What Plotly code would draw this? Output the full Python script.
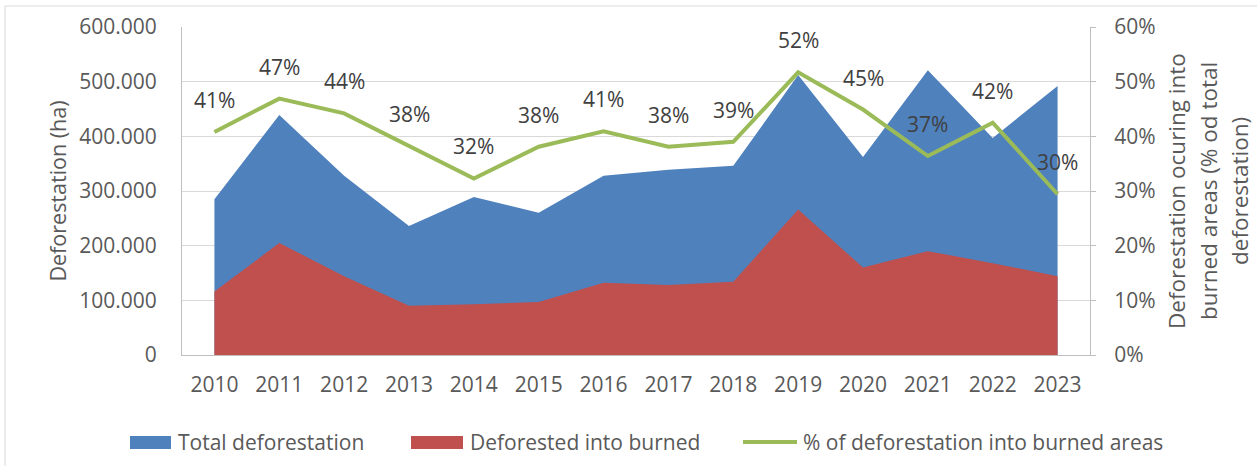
import plotly.graph_objects as go

years = ["2010", "2011", "2012", "2013", "2014", "2015", "2016",
         "2017", "2018", "2019", "2020", "2021", "2022", "2023"]
total_deforestation = [285000, 439000, 328000, 236000, 289000, 260000, 328000,
                       339000, 346000, 512000, 362000, 521000, 397000, 492000]
deforested_burned = [116000, 205000, 144000, 90000, 93000, 97000, 132000,
                     128000, 134000, 266000, 160000, 190000, 168000, 144000]
pct_burned = [0.408, 0.469, 0.442, 0.382, 0.323, 0.381, 0.409,
              0.381, 0.390, 0.517, 0.449, 0.364, 0.425, 0.294]
pct_labels = ["41%", "47%", "44%", "38%", "32%", "38%", "41%",
              "38%", "39%", "52%", "45%", "37%", "42%", "30%"]
left_ticks = [0, 100000, 200000, 300000, 400000, 500000, 600000]
left_tick_text = ["0", "100.000", "200.000", "300.000", "400.000", "500.000", "600.000"]
right_ticks = [0, 0.1, 0.2, 0.3, 0.4, 0.5, 0.6]
right_tick_text = ["0%", "10%", "20%", "30%", "40%", "50%", "60%"]

BLUE = "#4f81bd"
RED = "#c0504d"
GREEN = "#9bbb59"
TXT = "#595959"
GRID = "#d9d9d9"
AXIS = "#bfbfbf"
FONT = "Open Sans, Lato, sans-serif"

W, H = 1257, 466
L, R, T, B = 182, 167, 27, 111
PW, PH = W - L - R, H - T - B


def px(x):
    return (x - L) / PW


def py(y):
    return (H - B - y) / PH


fig = go.Figure()
fig.add_trace(go.Scatter(x=years, y=total_deforestation, name="Total deforestation",
                         mode="lines", line=dict(width=0, color=BLUE),
                         fill="tozeroy", fillcolor=BLUE, showlegend=False))
fig.add_trace(go.Scatter(x=years, y=deforested_burned, name="Deforested into burned",
                         mode="lines", line=dict(width=0, color=RED),
                         fill="tozeroy", fillcolor=RED, showlegend=False))
fig.add_trace(go.Scatter(x=years, y=pct_burned, name="% of deforestation into burned areas",
                         mode="lines", line=dict(width=4, color=GREEN),
                         yaxis="y2", showlegend=False))

annotations = []
for i, (v, lab) in enumerate(zip(pct_burned, pct_labels)):
    annotations.append(dict(x=i, y=v, xref="x", yref="y2", text=lab, showarrow=False,
                            yshift=32, font=dict(size=21, color="#404040", family=FONT)))

# right axis title (three lines)
for xpix, line in zip([1176, 1208, 1239],
                      ["Deforestation ocuring into", "burned areas (% od total", "deforestation)"]):
    annotations.append(dict(x=px(xpix), y=py(191), xref="paper", yref="paper", text=line,
                            showarrow=False, textangle=-90, xanchor="center", yanchor="middle",
                            font=dict(size=22.5, color=TXT, family=FONT)))

# legend text
for xpix, txt in zip([176, 468, 801],
                     ["Total deforestation", "Deforested into burned",
                      "% of deforestation into burned areas"]):
    annotations.append(dict(x=px(xpix), y=py(442), xref="paper", yref="paper", text=txt,
                            showarrow=False, xanchor="left", yanchor="middle",
                            font=dict(size=21, color=TXT, family=FONT)))

shapes = [
    # outer chart frame
    dict(type="rect", xref="paper", yref="paper", x0=px(5), x1=px(1262), y0=py(471), y1=py(6),
         line=dict(color=GRID, width=1), fillcolor="rgba(0,0,0,0)", layer="below"),
    # legend symbols
    dict(type="rect", xref="paper", yref="paper", x0=px(130), x1=px(171), y0=py(449), y1=py(436),
         line=dict(width=0), fillcolor=BLUE),
    dict(type="rect", xref="paper", yref="paper", x0=px(411), x1=px(463), y0=py(449), y1=py(436),
         line=dict(width=0), fillcolor=RED),
    dict(type="line", xref="paper", yref="paper", x0=px(743), x1=px(797), y0=py(442), y1=py(442),
         line=dict(width=4, color=GREEN)),
]

fig.update_layout(
    width=W, height=H,
    margin=dict(l=L, r=R, t=T, b=B),
    paper_bgcolor="white", plot_bgcolor="white",
    font=dict(family=FONT, size=20, color=TXT),
    showlegend=False,
    xaxis=dict(type="category", range=[-0.5, 13.5], showgrid=False, showline=True,
               linecolor=AXIS, linewidth=1, ticks="", ticklabelstandoff=11,
               tickfont=dict(size=21, color=TXT), zeroline=False),
    yaxis=dict(range=[0, 600000], tickvals=left_ticks, ticktext=left_tick_text,
               showgrid=True, gridcolor=GRID, gridwidth=1, showline=True, linecolor=AXIS,
               ticks="", ticklabelstandoff=20, zeroline=False,
               tickfont=dict(size=21, color=TXT),
               title=dict(text="Deforestation (ha)", standoff=6,
                          font=dict(size=21.5, color=TXT))),
    yaxis2=dict(range=[0, 0.6], tickvals=right_ticks, ticktext=right_tick_text,
                overlaying="y", side="right", showgrid=False, showline=True,
                linecolor=AXIS, ticks="outside", ticklen=5, tickcolor=AXIS,
                ticklabelstandoff=14, zeroline=False,
                tickfont=dict(size=21, color=TXT)),
    annotations=annotations,
    shapes=shapes,
)

fig.write_html("out.html", config={"displayModeBar": False},
               post_script="document.body.style.margin='0px';")
